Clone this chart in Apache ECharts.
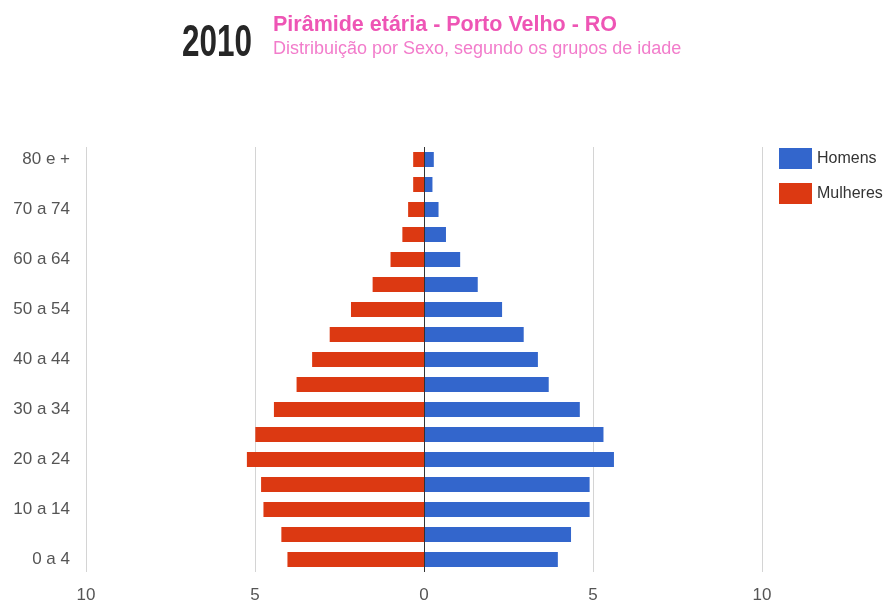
<!DOCTYPE html>
<html>
<head>
<meta charset="utf-8">
<script src="https://cdn.jsdelivr.net/npm/echarts@6/dist/echarts.min.js"></script>
<style>
  html, body { margin: 0; padding: 0; background: #fff; }
  #chart { width: 888px; height: 605px; }
</style>
</head>
<body>
<div id="chart"></div>
<script>
// Faixas etárias, de baixo para cima
const faixas = ['0 a 4', '5 a 9', '10 a 14', '15 a 19', '20 a 24', '25 a 29', '30 a 34', '35 a 39',
  '40 a 44', '45 a 49', '50 a 54', '55 a 59', '60 a 64', '65 a 69', '70 a 74', '75 a 79', '80 e +'];

// Percentual da população em cada faixa
const homens = [3.96, 4.35, 4.90, 4.90, 5.62, 5.31, 4.61, 3.69, 3.37, 2.95, 2.31, 1.59, 1.07, 0.65, 0.43, 0.25, 0.29];
const mulheres = [4.04, 4.22, 4.75, 4.82, 5.24, 4.99, 4.44, 3.77, 3.31, 2.79, 2.16, 1.52, 0.99, 0.64, 0.47, 0.32, 0.32];

const eixoX = { min: -10, max: 10, passo: 5 };

const SANS = '"Liberation Sans", Arial, sans-serif';

const chart = echarts.init(document.getElementById('chart'), null, { renderer: 'canvas' });

chart.setOption({
  animation: false,
  backgroundColor: '#ffffff',
  graphic: [
    // ano em fonte estreita (escala horizontal)
    { type: 'text', x: 182, y: 22, scaleX: 0.715,
      style: { text: '2010', font: 'bold 44px ' + SANS, fill: '#262626' } },
    { type: 'text', left: 273, top: 14,
      style: { text: 'Pirâmide etária - Porto Velho - RO', font: 'bold 21.5px ' + SANS, fill: '#ee55b5' } },
    { type: 'text', left: 273, top: 40,
      style: { text: 'Distribuição por Sexo, segundo os grupos de idade', font: '18px ' + SANS, fill: '#f27ccb' } }
  ],
  legend: {
    orient: 'vertical',
    left: 779,
    top: 148,
    padding: 0,
    itemWidth: 33,
    itemHeight: 21,
    itemGap: 14,
    data: ['Homens', 'Mulheres'],
    textStyle: { fontFamily: SANS, fontSize: 16, color: '#333' },
    icon: 'rect'
  },
  grid: { left: 86, right: 126, top: 147, bottom: 33 },
  xAxis: {
    type: 'value',
    min: eixoX.min,
    max: eixoX.max,
    interval: eixoX.passo,
    axisLine: { show: false },
    axisTick: { show: false },
    splitLine: { show: true, lineStyle: { color: '#d4d4d4', width: 1 } },
    axisLabel: {
      margin: 15,
      fontFamily: SANS, fontSize: 17, color: '#555',
      formatter: v => String(Math.abs(v))
    }
  },
  yAxis: {
    type: 'category',
    data: faixas,
    axisLine: { show: false },
    axisTick: { show: false },
    axisLabel: {
      interval: 1,
      margin: 16,
      fontFamily: SANS, fontSize: 17, color: '#555'
    }
  },
  series: [
    {
      name: 'Homens',
      type: 'bar',
      data: homens,
      barWidth: 15,
      barGap: '-100%',
      itemStyle: { color: '#3366cc' },
      z: 2
    },
    {
      name: 'Mulheres',
      type: 'bar',
      data: mulheres.map(v => -v),
      barWidth: 15,
      barGap: '-100%',
      itemStyle: { color: '#dc3912' },
      z: 2,
      markLine: {
        silent: true,
        symbol: 'none',
        label: { show: false },
        lineStyle: { color: '#333', width: 1, type: 'solid' },
        data: [{ xAxis: 0 }]
      }
    }
  ]
});
</script>
</body>
</html>
